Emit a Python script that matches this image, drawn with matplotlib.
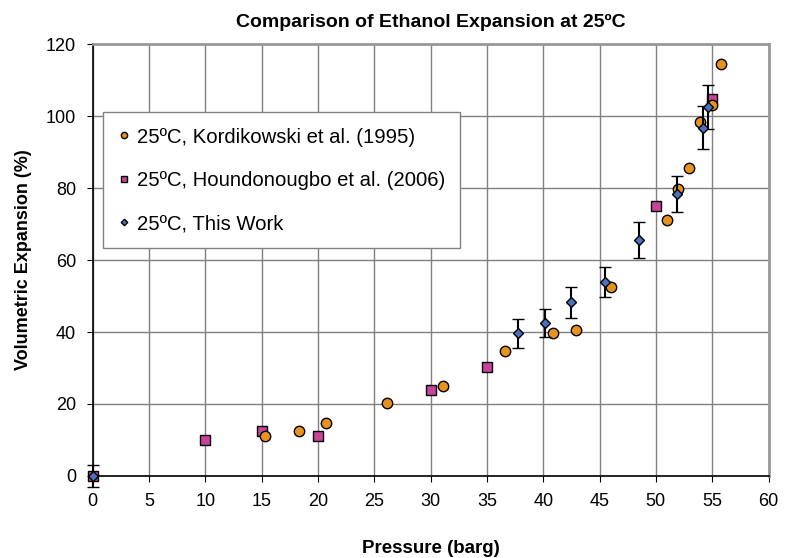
import matplotlib
matplotlib.use("Agg")
import matplotlib.pyplot as plt
from matplotlib.container import ErrorbarContainer

plt.rcParams['font.family'] = ['Liberation Sans', 'DejaVu Sans']

# Kordikowski et al. (1995)
kord_p = [15.3, 18.3, 20.7, 26.1, 31.1, 36.6, 40.9, 42.9, 46.0, 51.0, 52.0, 52.9, 53.9, 55.0, 55.8]
kord_v = [11.0, 12.6, 14.7, 20.3, 25.0, 34.7, 39.7, 40.5, 52.5, 71.2, 79.8, 85.6, 98.3, 103.0, 114.6]

# Houndonougbo et al. (2006)
houn_p = [0, 10, 15, 20, 30, 35, 50, 55]
houn_v = [0, 10.0, 12.5, 11.0, 24.0, 30.2, 74.9, 104.8]

# This work
this_p = [0, 37.8, 40.2, 42.5, 45.5, 48.5, 51.9, 54.2, 54.6]
this_v = [0, 39.6, 42.5, 48.2, 53.9, 65.5, 78.4, 96.8, 102.5]
this_err = [3.0, 4.0, 4.0, 4.2, 4.2, 5.0, 5.0, 6.0, 6.2]

fig = plt.figure(figsize=(7.85, 5.58), dpi=100)
ax = fig.add_axes([0.118, 0.147, 0.861, 0.774])

ax.plot(kord_p, kord_v, 'o', color='#E8921E', mec='black', mew=1.0, ms=7.5,
        label='25ºC, Kordikowski et al. (1995)', zorder=4, clip_on=False)
ax.plot(houn_p, houn_v, 's', color='#C8449C', mec='black', mew=1.0, ms=7.5,
        label='25ºC, Houndonougbo et al. (2006)', zorder=3, clip_on=False)
eb = ax.errorbar(this_p, this_v, yerr=this_err, fmt='D', color='#4A72BC', mec='black',
                 mew=1.0, ms=5.5, ecolor='black', elinewidth=1.5, capsize=4, capthick=1.5,
                 label='25ºC, This Work', zorder=5)
for art in [eb[0], *eb[1], *eb[2]]:
    art.set_clip_on(False)

ax.set_xlim(0, 60)
ax.set_ylim(0, 120)
ax.set_xticks(range(0, 61, 5))
ax.set_yticks(range(0, 121, 20))
ax.grid(True, color='#808080', linewidth=1.0)
ax.set_axisbelow(True)
ax.tick_params(labelsize=13, length=4, color='black', pad=8)

for s in ['top', 'right']:
    ax.spines[s].set_color('#999999')
    ax.spines[s].set_linewidth(2)
for s in ['left', 'bottom']:
    ax.spines[s].set_color('black')
    ax.spines[s].set_linewidth(1.2)

ax.set_title('Comparison of Ethanol Expansion at 25ºC', fontsize=14,
             fontweight='bold', pad=12)
ax.set_xlabel('Pressure (barg)', fontsize=13.5, fontweight='bold', labelpad=22)
ax.set_ylabel('Volumetric Expansion (%)', fontsize=13, fontweight='bold', labelpad=10)

handles, labels = ax.get_legend_handles_labels()
handles = [h[0] if isinstance(h, ErrorbarContainer) else h for h in handles]
leg = ax.legend(handles, labels, loc='upper left', bbox_to_anchor=(0.016, 0.842),
                fontsize=14.6, frameon=True, fancybox=False, edgecolor='#808080',
                framealpha=1, markerscale=0.6, handlelength=0.5, handletextpad=0.4,
                labelspacing=1.2, borderpad=0.75, borderaxespad=0)
leg.get_frame().set_linewidth(1.0)

fig.savefig('out.png', dpi=100)
